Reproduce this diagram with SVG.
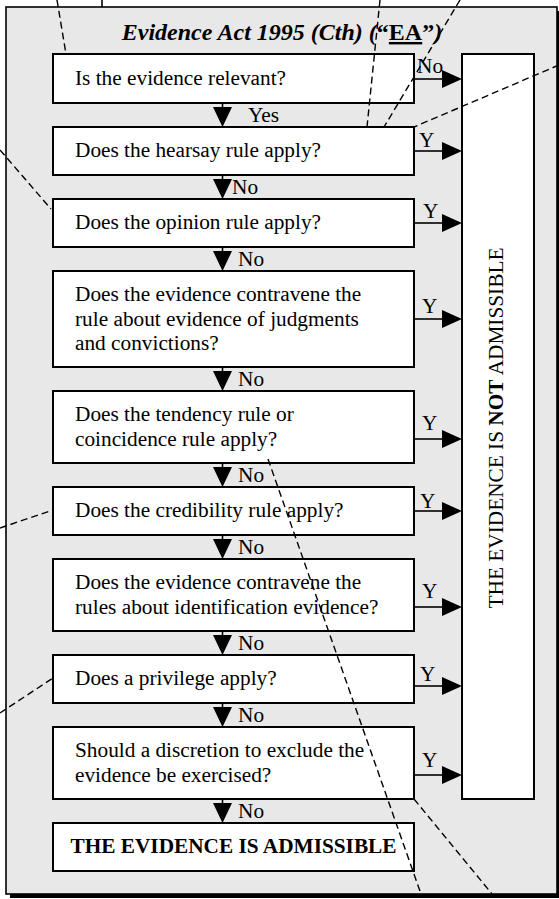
<svg xmlns="http://www.w3.org/2000/svg" width="559" height="899" viewBox="0 0 559 899">
<style>
text{font-family:"Liberation Serif","Times New Roman",serif;font-size:21.3px;fill:#000}
.box{fill:#fff;stroke:#000;stroke-width:2}
.ln{stroke:#000;stroke-width:1.6;fill:none}
.ah{fill:#000}
.dash{stroke:#000;stroke-width:1.4;stroke-dasharray:7 4;fill:none}
.b{font-weight:bold}
</style>
<rect width="559" height="899" fill="#fff"/>
<g id="frame">
<rect x="10" y="11" width="551" height="887" fill="#000"/>
<rect x="6" y="7" width="551" height="887" fill="#e8e8e8" stroke="#000" stroke-width="1.6"/>
<text x="282" y="40" text-anchor="middle" style="font-size:24px;font-weight:bold"><tspan font-style="italic">Evidence Act 1995 (Cth) (</tspan>“<tspan text-decoration="underline">EA</tspan>”<tspan font-style="italic">)</tspan></text>
</g>
<g id="n1"><rect class="box" x="53" y="54" width="361" height="49"/><text x="75" y="85">Is the evidence relevant?</text></g>
<g id="n2"><rect class="box" x="53" y="127" width="361" height="48"/><text x="75" y="157">Does the hearsay rule apply?</text></g>
<g id="n3"><rect class="box" x="53" y="199" width="361" height="48"/><text x="75" y="229">Does the opinion rule apply?</text></g>
<g id="n4"><rect class="box" x="53" y="271" width="361" height="96"/><text x="75" y="301">Does the evidence contravene the</text><text x="75" y="325.5">rule about evidence of judgments</text><text x="75" y="350">and convictions?</text></g>
<g id="n5"><rect class="box" x="53" y="391" width="361" height="72"/><text x="75" y="421">Does the tendency rule or</text><text x="75" y="445.5">coincidence rule apply?</text></g>
<g id="n6"><rect class="box" x="53" y="487" width="361" height="48"/><text x="75" y="517">Does the credibility rule apply?</text></g>
<g id="n7"><rect class="box" x="53" y="559" width="361" height="72"/><text x="75" y="589">Does the evidence contravene the</text><text x="75" y="613.5">rules about identification evidence?</text></g>
<g id="n8"><rect class="box" x="53" y="655" width="361" height="48"/><text x="75" y="685">Does a privilege apply?</text></g>
<g id="n9"><rect class="box" x="53" y="727" width="361" height="72"/><text x="75" y="757">Should a discretion to exclude the</text><text x="75" y="781.5">evidence be exercised?</text></g>
<g id="admissible"><rect class="box" x="53" y="823" width="361" height="48"/><text x="233.5" y="853" text-anchor="middle" class="b">THE EVIDENCE IS ADMISSIBLE</text></g>
<g id="not-admissible"><rect class="box" x="462" y="54" width="72" height="745"/><text x="503" y="428" text-anchor="middle" transform="rotate(-90 503 428)">THE EVIDENCE IS <tspan class="b">NOT</tspan> ADMISSIBLE</text></g>
<g id="connectors">
<line class="ln" x1="222.5" y1="103" x2="222.5" y2="110"/><polygon class="ah" points="213,107 232,107 222.5,127"/>
<line class="ln" x1="222.5" y1="175" x2="222.5" y2="182"/><polygon class="ah" points="213,179 232,179 222.5,199"/>
<line class="ln" x1="222.5" y1="247" x2="222.5" y2="254"/><polygon class="ah" points="213,251 232,251 222.5,271"/>
<line class="ln" x1="222.5" y1="367" x2="222.5" y2="374"/><polygon class="ah" points="213,371 232,371 222.5,391"/>
<line class="ln" x1="222.5" y1="463" x2="222.5" y2="470"/><polygon class="ah" points="213,467 232,467 222.5,487"/>
<line class="ln" x1="222.5" y1="535" x2="222.5" y2="542"/><polygon class="ah" points="213,539 232,539 222.5,559"/>
<line class="ln" x1="222.5" y1="631" x2="222.5" y2="638"/><polygon class="ah" points="213,635 232,635 222.5,655"/>
<line class="ln" x1="222.5" y1="703" x2="222.5" y2="710"/><polygon class="ah" points="213,707 232,707 222.5,727"/>
<line class="ln" x1="222.5" y1="799" x2="222.5" y2="806"/><polygon class="ah" points="213,803 232,803 222.5,823"/>
<text x="248" y="122">Yes</text>
<text x="232" y="194">No</text>
<text x="238" y="266">No</text>
<text x="238" y="386">No</text>
<text x="238" y="482">No</text>
<text x="238" y="554">No</text>
<text x="238" y="650">No</text>
<text x="238" y="722">No</text>
<text x="238" y="818">No</text>
<line class="ln" x1="414" y1="79" x2="444" y2="79"/><polygon class="ah" points="442,70 442,88 462,79"/>
<line class="ln" x1="414" y1="151" x2="444" y2="151"/><polygon class="ah" points="442,142 442,160 462,151"/>
<line class="ln" x1="414" y1="223" x2="444" y2="223"/><polygon class="ah" points="442,214 442,232 462,223"/>
<line class="ln" x1="414" y1="319" x2="444" y2="319"/><polygon class="ah" points="442,310 442,328 462,319"/>
<line class="ln" x1="414" y1="439" x2="444" y2="439"/><polygon class="ah" points="442,430 442,448 462,439"/>
<line class="ln" x1="414" y1="511" x2="444" y2="511"/><polygon class="ah" points="442,502 442,520 462,511"/>
<line class="ln" x1="414" y1="607" x2="444" y2="607"/><polygon class="ah" points="442,598 442,616 462,607"/>
<line class="ln" x1="414" y1="686" x2="444" y2="686"/><polygon class="ah" points="442,677 442,695 462,686"/>
<line class="ln" x1="414" y1="775" x2="444" y2="775"/><polygon class="ah" points="442,766 442,784 462,775"/>
<text x="417" y="73">No</text>
<text x="419" y="147">Y</text>
<text x="423" y="218">Y</text>
<text x="422" y="313">Y</text>
<text x="422" y="430">Y</text>
<text x="420" y="508">Y</text>
<text x="422" y="598">Y</text>
<text x="420" y="681">Y</text>
<text x="422" y="767">Y</text>
</g>
<g id="callouts">
<line class="ln" x1="102" y1="0" x2="102" y2="7"/>
<line class="dash" x1="57" y1="0" x2="66" y2="54"/>
<line class="dash" x1="380" y1="0" x2="367" y2="127"/>
<line class="dash" x1="460" y1="0" x2="384" y2="127"/>
<line class="dash" x1="559" y1="65" x2="414" y2="127"/>
<line class="dash" x1="0" y1="150" x2="51" y2="209"/>
<line class="dash" x1="0" y1="528" x2="53" y2="510"/>
<line class="dash" x1="0" y1="713" x2="53" y2="678"/>
<line class="dash" x1="268" y1="459" x2="421" y2="894"/>
<line class="dash" x1="414" y1="799" x2="492" y2="894"/>
</g>
</svg>
